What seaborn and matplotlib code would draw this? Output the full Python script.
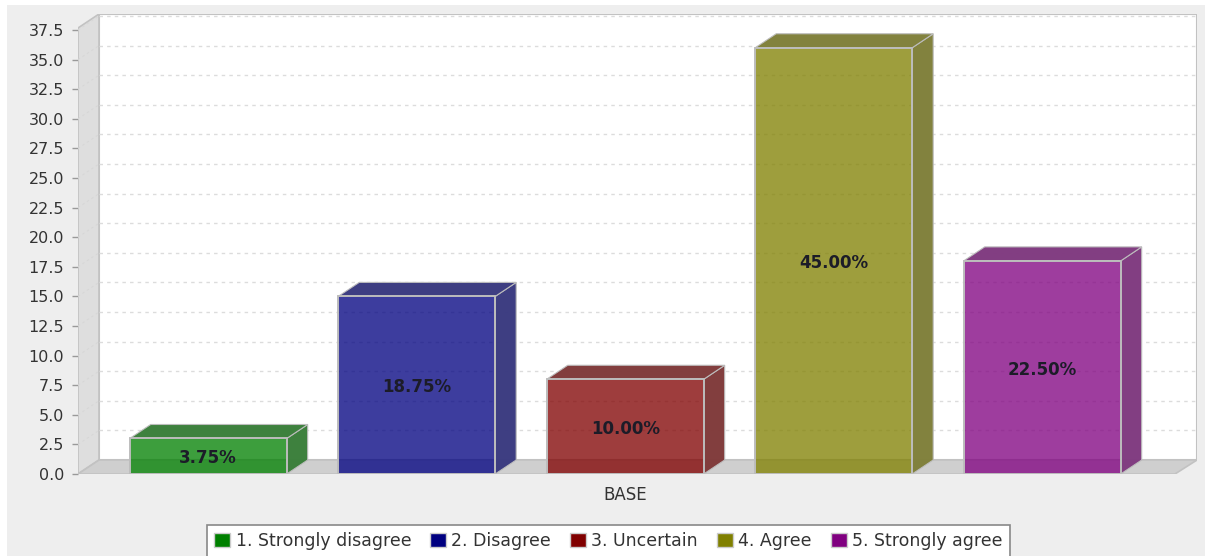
import matplotlib
matplotlib.use("Agg")
import matplotlib.pyplot as plt
from matplotlib.patches import Patch, Polygon, Rectangle
from matplotlib.colors import to_rgba
import seaborn as sns
import pandas as pd

group = ["BASE"] * 5
series = ["1. Strongly disagree", "2. Disagree", "3. Uncertain", "4. Agree", "5. Strongly agree"]
counts = [3, 15, 8, 36, 18]
percent_labels = ["3.75%", "18.75%", "10.00%", "45.00%", "22.50%"]
base_colors = ["#008000", "#000080", "#800000", "#808000", "#800080"]
side_colors = ["#3a7f3a", "#3a3a80", "#803a3a", "#80803a", "#803a80"]
y_ticks = [0, 2.5, 5, 7.5, 10, 12.5, 15, 17.5, 20, 22.5, 25, 27.5, 30, 32.5, 35, 37.5]
y_tick_labels = ["%.1f" % t for t in y_ticks]

W, H = 1205, 556
sns.set_theme(style="white")
plt.rcParams["font.family"] = ["DejaVu Sans"]
fig = plt.figure(figsize=(W / 100, H / 100), dpi=100, facecolor="white")
fig.add_artist(Rectangle((7 / W, 0), 1 - 7 / W, 1 - 5 / H, transform=fig.transFigure,
                         facecolor="#eeeeee", edgecolor="none", zorder=-10))

# axes: front plane lower-left at (78,474), rear upper-right at (1197,14)
L, R, T, B = 78, 1197, 14, 474
ax = fig.add_axes([L / W, 1 - B / H, (R - L) / W, (B - T) / H])
ax.patch.set_visible(False)
px_per_unit = 444 / 37.5
cat_unit = 208.5 * 5 / 0.8
xc = 625.2
ax.set_xlim((L - xc) / cat_unit, (R - xc) / cat_unit)
ax.set_ylim(0, (B - T) / px_per_unit)
dx = 21 / cat_unit
dy = 14 / px_per_unit
x0 = ax.get_xlim()[0]
x1 = x0 + (1175 - L) / cat_unit
xb = ax.get_xlim()[1]
ytop = ax.get_ylim()[1]

df = pd.DataFrame({"group": group, "series": series, "count": counts})
sns.barplot(data=df, x="group", y="count", hue="series", hue_order=series,
            palette=base_colors, width=0.8, gap=1 - 157 / 208.5, legend=False,
            saturation=1, ax=ax, zorder=5, err_kws={"linewidth": 0})
ax.set_xlim(x0, xb)
ax.set_ylim(0, ytop)
ax.set_xlabel("")
ax.set_ylabel("")

wall = "#c2c2c2"
ax.add_patch(Polygon([(x0 + dx, dy), (xb, dy), (xb, ytop), (x0 + dx, ytop)], facecolor="white",
                     edgecolor=wall, lw=1.5, zorder=1))
ax.add_patch(Polygon([(x0, 0), (x0 + dx, dy), (x0 + dx, ytop), (x0, ytop - dy)], facecolor="#dedede",
                     edgecolor=wall, lw=1.2, zorder=1))
ax.add_patch(Polygon([(x0, 0), (x0 + dx, dy), (xb, dy), (x1, 0)], facecolor="#cfcfcf",
                     edgecolor=wall, lw=1.2, zorder=1))
for t in y_ticks[1:]:
    ax.plot([x0 + dx, xb], [t + dy, t + dy], color="#dcdcdc", lw=1, ls=(0, (2.5, 3)), zorder=2)
    ax.plot([x0, x0 + dx], [t, t + dy], color="#d6d6d6", lw=0.7, ls=(0, (2.5, 3)), zorder=2)

bars = [b for b in ax.patches if isinstance(b, Rectangle)]
bars = sorted(bars, key=lambda b: b.get_x())
edge = "#bdbdbd"
for b, c, s, lab in zip(bars, base_colors, side_colors, percent_labels):
    x, w, h = b.get_x(), b.get_width(), b.get_height()
    b.set_facecolor(to_rgba(c, 0.76))
    b.set_edgecolor(edge)
    b.set_linewidth(1.4)
    ax.add_patch(Polygon([(x + w, 0), (x + w + dx, dy), (x + w + dx, h + dy), (x + w, h)],
                         facecolor=s, edgecolor=edge, lw=0.8, zorder=4, alpha=0.98))
    ax.add_patch(Polygon([(x, h), (x + dx, h + dy), (x + w + dx, h + dy), (x + w, h)],
                         facecolor=s, edgecolor=edge, lw=0.8, zorder=4, alpha=0.98))
    ax.annotate(lab, (x + w / 2, h / 2), xytext=(0, -1.5), textcoords="offset points",
                ha="center", va="center", fontsize=12, fontweight="bold",
                color="#1c1c28", zorder=7)

for s in ax.spines.values():
    s.set_visible(False)
ax.set_yticks(y_ticks)
ax.set_yticklabels(y_tick_labels)
ax.tick_params(axis="y", left=True, length=4, width=1, color="#999999", pad=6,
               labelsize=11.5, labelcolor="#333333")
ax.tick_params(axis="x", bottom=False, pad=2.4, labelsize=12, labelcolor="#333333")

handles = [Patch(facecolor=c, edgecolor="#cccccc", label=s) for c, s in zip(base_colors, series)]
leg = fig.legend(handles=handles, loc="center", bbox_to_anchor=(608.5 / W, 1 - 541 / H), ncol=5,
                 fontsize=12.5, frameon=True, fancybox=False, facecolor="white", edgecolor="#888888",
                 framealpha=1, handlelength=0.92, handleheight=0.92, handletextpad=0.3,
                 columnspacing=1.1, borderpad=0.42, borderaxespad=0)
leg.get_frame().set_linewidth(1.2)
for t in leg.get_texts():
    t.set_color("#333333")

fig.savefig("out.png", dpi=100)
